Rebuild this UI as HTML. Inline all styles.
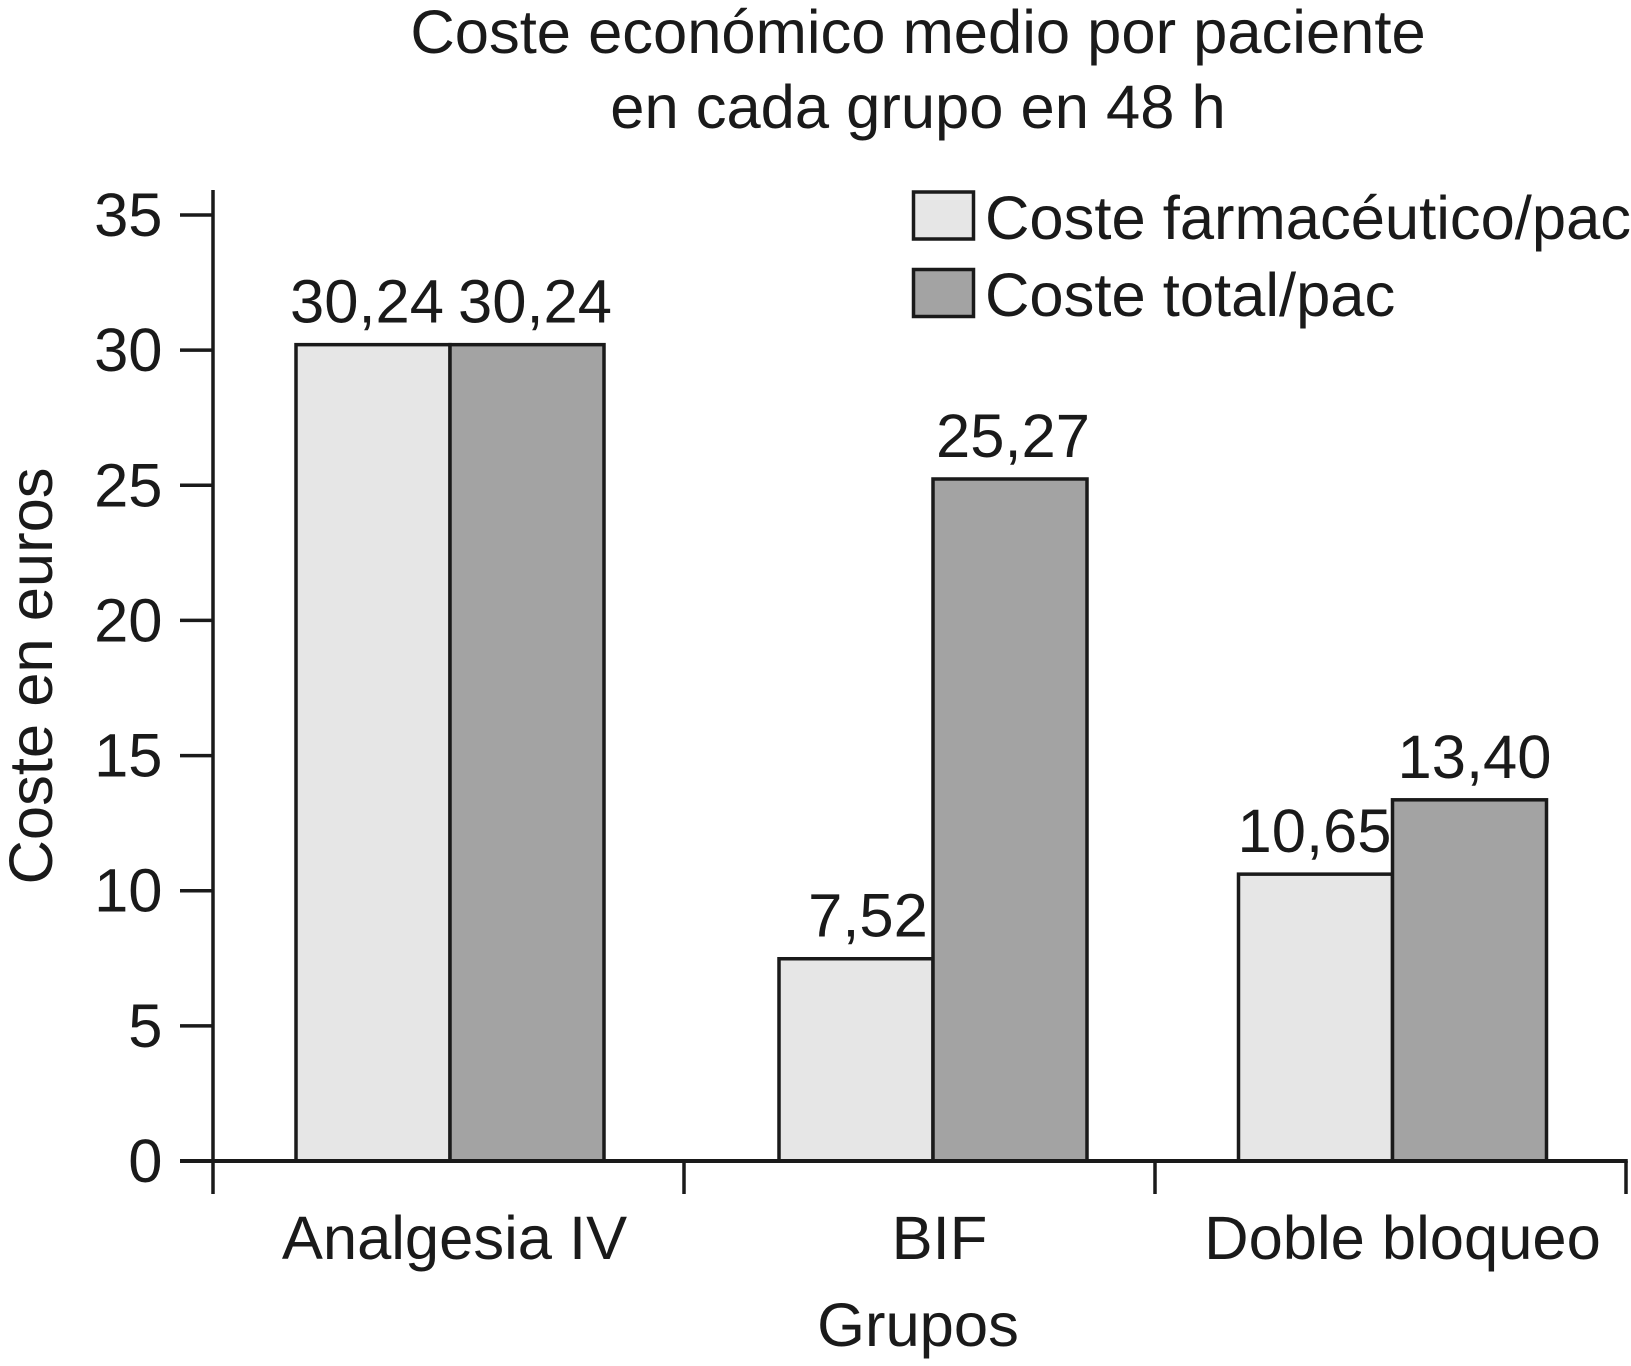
<!DOCTYPE html>
<html lang="es">
<head>
<meta charset="utf-8">
<title>Coste económico medio por paciente</title>
<style>
html,body{margin:0;padding:0;background:#fff;overflow:hidden;}
svg{display:block;}
text{font-family:"Liberation Sans",Arial,sans-serif;fill:#1a1a1a;}
</style>
</head>
<body>
<svg id="chart" xmlns="http://www.w3.org/2000/svg" width="1631" height="1366" viewBox="0 0 1631 1366">
  <rect x="0" y="0" width="1631" height="1366" fill="#ffffff"/>
  <text x="918" y="53" text-anchor="middle" font-size="61.5">Coste económico medio por paciente</text>
  <text x="918" y="128" text-anchor="middle" font-size="61.5">en cada grupo en 48 h</text>
  <text transform="translate(52 676) rotate(-90)" text-anchor="middle" font-size="61.5">Coste en euros</text>
  <text x="918" y="1346" text-anchor="middle" font-size="61.5">Grupos</text>
  <g id="bars"></g>
  <g id="axes"></g>
  <g id="labels"></g>
  <g id="legend">
    <rect x="913.5" y="192" width="60" height="47" fill="#e6e6e6" stroke="#1a1a1a" stroke-width="3.5"/>
    <text x="985" y="239" font-size="61.5">Coste farmacéutico/pac</text>
    <rect x="913.5" y="269.5" width="60" height="47" fill="#a3a3a3" stroke="#1a1a1a" stroke-width="3.5"/>
    <text x="985" y="316" font-size="61.5">Coste total/pac</text>
  </g>
</svg>
<script>
const categories = ["Analgesia IV", "BIF", "Doble bloqueo"];
const costeFarmaceutico = [30.24, 7.52, 10.65];
const costeTotal = [30.24, 25.27, 13.40];
const farmaceuticoLabels = ["30,24", "7,52", "10,65"];
const totalLabels = ["30,24", "25,27", "13,40"];
const yTicks = [0, 5, 10, 15, 20, 25, 30, 35];

const NS = "http://www.w3.org/2000/svg";
const plotLeft = 213, plotRight = 1626, plotBottom = 1161, plotTop35 = 215;
const barWidth = 154;
const barTopInset = 1;
const barStroke = 3.5;
const bandWidth = (plotRight - plotLeft) / categories.length;
const groupShift = [1.5, 13.5, 2];
const catLabelShift = [6, 20, 12];
const farmLabelShift = [-6, 12, -1];
const totalLabelShift = [8, 3, 5];

function yScale(v) { return plotBottom - (plotBottom - plotTop35) * v / 35; }
function bandLeft(i) { return plotLeft + bandWidth * i; }
function bandCenter(i) { return bandLeft(i) + bandWidth / 2; }

function make(tag, attrs, parent) {
  const el = document.createElementNS(NS, tag);
  for (const k in attrs) el.setAttribute(k, attrs[k]);
  parent.appendChild(el);
  return el;
}

const barsG = document.getElementById("bars");
const axesG = document.getElementById("axes");
const labelsG = document.getElementById("labels");
const lineStyle = { stroke: "#1a1a1a", "stroke-width": 3.5 };

categories.forEach(function (cat, i) {
  const mid = bandCenter(i) + groupShift[i];
  const yF = yScale(costeFarmaceutico[i]);
  const yT = yScale(costeTotal[i]);

  const b1 = make("rect", { x: mid - barWidth, y: yF + barTopInset, width: barWidth, height: plotBottom - yF - barTopInset, fill: "#e6e6e6", stroke: "#1a1a1a", "stroke-width": barStroke }, barsG);
  
  

  const b2 = make("rect", { x: mid, y: yT + barTopInset, width: barWidth, height: plotBottom - yT - barTopInset, fill: "#a3a3a3", stroke: "#1a1a1a", "stroke-width": barStroke }, barsG);
  
  

  const l1 = make("text", { x: mid - barWidth / 2 + farmLabelShift[i], y: yF - 21, "text-anchor": "middle", "font-size": 61.5 }, labelsG);
  l1.textContent = farmaceuticoLabels[i];
  
  

  const l2 = make("text", { x: mid + barWidth / 2 + totalLabelShift[i], y: yT - 21, "text-anchor": "middle", "font-size": 61.5 }, labelsG);
  l2.textContent = totalLabels[i];
  
  

  const c = make("text", { x: bandCenter(i) + catLabelShift[i], y: 1259, "text-anchor": "middle", "font-size": 61.5 }, axesG);
  c.textContent = cat;
  
  
});

const yAxis = make("line", Object.assign({ x1: plotLeft, x2: plotLeft, y1: 190, y2: 1194 }, lineStyle), axesG);



const xAxis = make("line", Object.assign({ x1: 180, x2: plotRight + 1.75, y1: plotBottom, y2: plotBottom }, { stroke: "#1a1a1a", "stroke-width": 4 }), axesG);



yTicks.forEach(function (t) {
  const ty = yScale(t);
  const tick = make("line", Object.assign({ x1: 180, x2: plotLeft, y1: ty, y2: ty }, lineStyle), axesG);
  
  

  const lab = make("text", { x: 162.5, y: ty + 21, "text-anchor": "end", "font-size": 61.5 }, axesG);
  lab.textContent = String(t);
  
  
});

for (let i = 1; i <= categories.length; i++) {
  const tx = bandLeft(i);
  const xt = make("line", Object.assign({ x1: tx, x2: tx, y1: plotBottom, y2: 1194 }, lineStyle), axesG);
  
  
}
</script>
</body>
</html>
